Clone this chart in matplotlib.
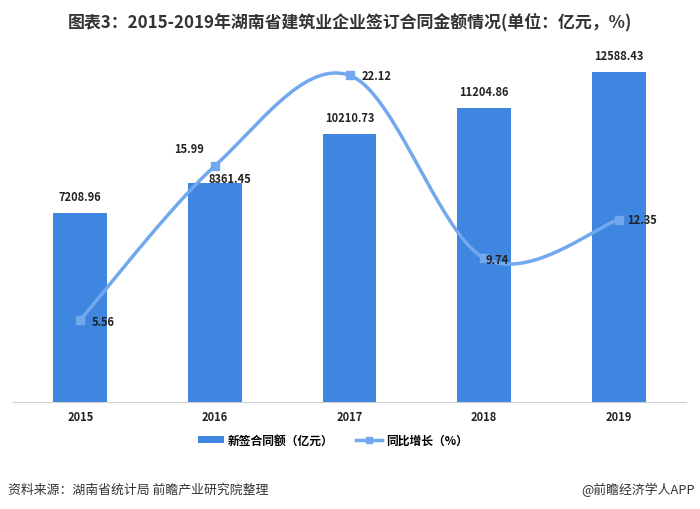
import matplotlib
matplotlib.use('Agg')
import matplotlib.pyplot as plt
import numpy as np
from matplotlib.lines import Line2D
from matplotlib.patches import Patch

plt.rcParams['font.family'] = ['Noto Sans CJK SC', 'DejaVu Sans']

# Data
years = ['2015', '2016', '2017', '2018', '2019']
contract_value = [7208.96, 8361.45, 10210.73, 11204.86, 12588.43]
yoy_growth = [5.56, 15.99, 22.12, 9.74, 12.35]

# Colors
bar_blue = '#3F86E0'
line_blue = '#72A8EE'
text_dark = '#222222'

fig = plt.figure(figsize=(7, 5.1), dpi=100)
ax = fig.add_axes([13 / 700, 1 - 403 / 510, 673 / 700, 353 / 510])
ax2 = ax.twinx()

x = np.arange(len(years))
ax.bar(x, contract_value, width=0.4, color=bar_blue, zorder=2)
ax.set_xlim(-0.5, 4.5)
ax.set_ylim(0, 13460)
ax2.set_ylim(0, 23.9)

# smoothed line (Catmull-Rom, like Excel's smoothing)
pts = np.column_stack([x, yoy_growth]).astype(float)
ext = np.vstack([pts[0], pts, pts[-1]])
curve = []
t = np.linspace(0, 1, 40)[:, None]
for i in range(len(pts) - 1):
    p0, p1, p2, p3 = ext[i], ext[i + 1], ext[i + 2], ext[i + 3]
    c1 = p1 + (p2 - p0) / 6
    c2 = p2 - (p3 - p1) / 6
    seg = ((1 - t) ** 3) * p1 + 3 * ((1 - t) ** 2) * t * c1 + 3 * (1 - t) * t ** 2 * c2 + t ** 3 * p2
    curve.append(seg)
curve = np.vstack(curve)
ax2.plot(curve[:, 0], curve[:, 1], color=line_blue, linewidth=2.5, zorder=3)
ax2.plot(x, yoy_growth, linestyle='none', marker='s', markersize=6,
         color=line_blue, zorder=4)

# bar value labels
bar_offsets = [(0, 10), (15, -2), (0, 10), (0, 10), (0, 10)]
for xi, v, off in zip(x, contract_value, bar_offsets):
    ax.annotate(f'{v:.2f}', (xi, v), xytext=off, textcoords='offset pixels',
                ha='center', va='bottom', fontsize=8, fontweight='bold',
                color=text_dark, zorder=5)

# line value labels
line_offsets = [(11, -2), (-26, 17), (12, 0), (1, -1), (8, 0)]
line_ha = ['left', 'center', 'left', 'left', 'left']
for xi, v, off, ha in zip(x, yoy_growth, line_offsets, line_ha):
    ax2.annotate(f'{v:.2f}', (xi, v), xytext=off, textcoords='offset pixels',
                 ha=ha, va='center', fontsize=8, fontweight='bold',
                 color=text_dark, zorder=5)

for a in (ax, ax2):
    for s in ['top', 'right', 'left']:
        a.spines[s].set_visible(False)
    a.set_yticks([])
ax2.spines['bottom'].set_visible(False)
ax.spines['bottom'].set_color('#D0D0D0')
ax.set_xticks(x)
ax.set_xticklabels(years, fontsize=8, fontweight='bold', color=text_dark)
ax.tick_params(axis='x', length=0, pad=6)

# legend
handles = [Patch(facecolor=bar_blue, edgecolor='none'),
           Line2D([0], [0], color=line_blue, linewidth=2.5, marker='s', markersize=5)]
fig.legend(handles, ['新签合同额（亿元）', '同比增长（%）'], loc='center',
           bbox_to_anchor=(333 / 700, 1 - 441 / 510), ncol=2, frameon=False,
           prop={'size': 8.5, 'weight': 'bold'}, handlelength=2.2,
           handleheight=0.5, columnspacing=1.9, handletextpad=0.3)

# title and footer
fig.text(0.5, 1 - 22 / 510, '图表3：2015-2019年湖南省建筑业企业签订合同金额情况(单位：亿元，%)',
         ha='center', va='center', fontsize=12.2, fontweight='bold', color='#333333')
fig.text(8 / 700, 1 - 490 / 510, '资料来源：湖南省统计局 前瞻产业研究院整理',
         ha='left', va='center', fontsize=9.3, color='#333333')
fig.text(695 / 700, 1 - 490 / 510, '@前瞻经济学人APP',
         ha='right', va='center', fontsize=9.3, color='#333333')

plt.savefig('out.png', dpi=100)
plt.close()
